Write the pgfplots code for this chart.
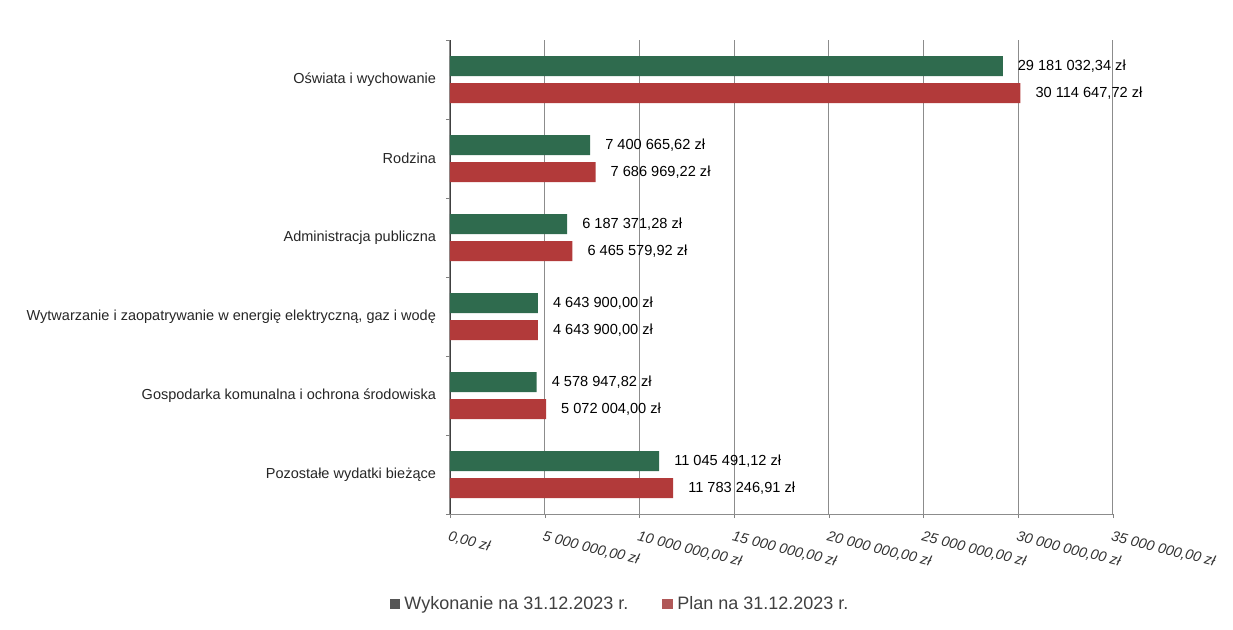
\documentclass[border=0pt]{standalone}
\usepackage{pgfplots}
\pgfplotsset{compat=1.18}
\usepackage{pgfplotstable}
\usepackage{fontspec}
\setmainfont{Liberation Sans}
\definecolor{cgreen}{HTML}{2F6B4E}
\definecolor{cred}{HTML}{B23A3A}
\definecolor{lgray}{HTML}{555555}
\definecolor{lred}{HTML}{B05858}
\pgfplotstableread[col sep=semicolon]{
y;x;lab
5;29181032.34;29 181 032,34 zł
4;7400665.62;7 400 665,62 zł
3;6187371.28;6 187 371,28 zł
2;4643900.00;4 643 900,00 zł
1;4578947.82;4 578 947,82 zł
0;11045491.12;11 045 491,12 zł
}\wyk
\pgfplotstableread[col sep=semicolon]{
y;x;lab
5;30114647.72;30 114 647,72 zł
4;7686969.22;7 686 969,22 zł
3;6465579.92;6 465 579,92 zł
2;4643900.00;4 643 900,00 zł
1;5072004.00;5 072 004,00 zł
0;11783246.91;11 783 246,91 zł
}\plan
\begin{document}
\begin{tikzpicture}
\useasboundingbox (0,0) rectangle (616.5pt,314.5pt);
\begin{axis}[
  at={(225pt,57.5pt)}, anchor=south west,
  scale only axis, width=331.5pt, height=237pt,
  xbar, bar width=10pt,
  xmin=0, xmax=35000000,
  ymin=-0.5, ymax=5.5,
  axis lines*=left,
  x axis line style={draw=black!45},
  y axis line style={draw=black!75},
  xtick={0,5000000,10000000,15000000,20000000,25000000,30000000,35000000},
  xticklabels={{0,00 zł},{5 000 000,00 zł},{10 000 000,00 zł},{15 000 000,00 zł},{20 000 000,00 zł},{25 000 000,00 zł},{30 000 000,00 zł},{35 000 000,00 zł}},
  scaled x ticks=false,
  xticklabel style={font=\fontsize{7.2}{8}\selectfont\itshape, text=black!80, rotate=-14, anchor=north west, xshift=-2pt, yshift=-2.5pt},
  ytick={0,1,2,3,4,5},
  yticklabels={Pozostałe wydatki bieżące, Gospodarka komunalna i ochrona środowiska, Wytwarzanie i zaopatrywanie w energię elektryczną{,} gaz i wodę, Administracja publiczna, Rodzina, Oświata i wychowanie},
  yticklabel style={font=\fontsize{7.25}{8}\selectfont, text=black!85, xshift=-1.5pt},
  minor ytick={-0.5,0.5,1.5,2.5,3.5,4.5,5.5},
  major tick length=2pt, minor tick length=2pt,
  tick align=outside,
  tick style={draw=black!50},
  xmajorgrids, major grid style={draw=black!45, line width=0.5pt},
  every y tick/.style={draw=none},
  every minor y tick/.style={draw=black!50},
  nodes near coords,
  point meta=explicit symbolic,
  nodes near coords style={anchor=west, font=\fontsize{7.3}{8}\selectfont, text=black, xshift=4pt},
  legend style={at={(rel axis cs:0.258,-0.19)}, anchor=center, draw=none, legend columns=2,
    font=\fontsize{9}{10}\selectfont, text=black!75,
    /tikz/every even column/.append style={column sep=15pt}},
  legend cell align=left,
]
\addplot[fill=cgreen, draw=none, bar shift=6.75pt,
  legend image code/.code={\fill[lgray] (0pt,-2.4pt) rectangle (5.4pt,2.4pt);}]
  table[x=x, y=y, meta=lab] {\wyk};
\addplot[fill=cred, draw=none, bar shift=-6.75pt,
  legend image code/.code={\fill[lred] (0pt,-2.4pt) rectangle (5.4pt,2.4pt);}]
  table[x=x, y=y, meta=lab] {\plan};
\legend{Wykonanie na 31.12.2023 r., Plan na 31.12.2023 r.}
\end{axis}
\end{tikzpicture}
\end{document}
